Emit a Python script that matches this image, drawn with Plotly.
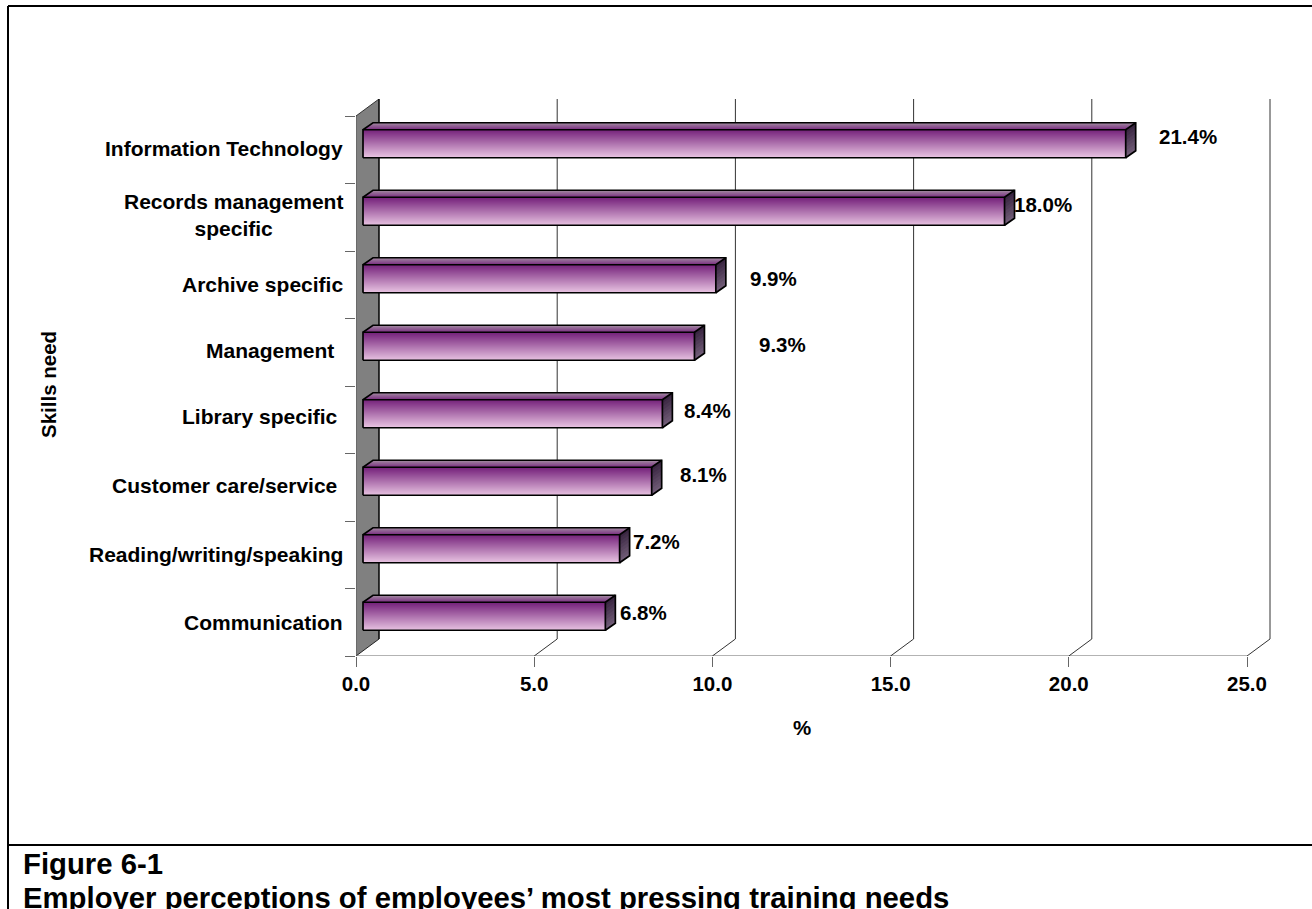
import plotly.graph_objects as go

categories = ["Information Technology", "Records management<br>specific", "Archive specific", "Management",
              "Library specific", "Customer care/service", "Reading/writing/speaking", "Communication"]
values = [21.4, 18.0, 9.9, 9.3, 8.4, 8.1, 7.2, 6.8]
value_labels = ["21.4%", "18.0%", "9.9%", "9.3%", "8.4%", "8.1%", "7.2%", "6.8%"]
x_ticks = [0, 5, 10, 15, 20, 25]
x_tick_labels = ["0.0", "5.0", "10.0", "15.0", "20.0", "25.0"]
caption_lines = ["Figure 6-1", "Employer perceptions of employees\u2019 most pressing training needs"]

# label placement, as pixel positions
cat_label_right = [345, 345, 345, 336, 340, 339, 345, 345]
cat_label_y = [148, 215, 284, 350, 417, 485, 554, 622]
val_label_x = [1188, 1043, 773, 782, 707, 703, 656, 643]
val_label_y = [136, 204, 278, 344, 410, 475, 541, 612]

W, H = 1312, 909
PL, PR, PT, PB = 356, 1271, 99, 656      # plot area in pixels
PX_PER_X = (1247 - 356) / 25
PX_PER_Y = (656 - 116) / 8
FONT = "Liberation Sans"
TICK_SIZE = 20.5
CAT_SIZE = 21

X_MAX = (PR - PL) / PX_PER_X
Y_MAX = (PB - PT) / PX_PER_Y
WALL_DX, WALL_DY = 23 / PX_PER_X, 17 / PX_PER_Y
BAR_X0 = 7 / PX_PER_X
BAR_LIFT = 6 / PX_PER_Y
BAR_H = 28 / PX_PER_Y
TOP_DX, TOP_DY = 10 / PX_PER_X, 7 / PX_PER_Y

def mix(c1, c2, t):
    return "rgb(%d,%d,%d)" % tuple(round(a + (b - a) * t) for a, b in zip(c1, c2))

n = len(values)
centers = [n - i - 0.5 + BAR_LIFT for i in range(n)]
ends = [BAR_X0 + v for v in values]
fig = go.Figure()

# front face gradient, stacked thin bars
FRONT_BANDS = 28
for k in range(FRONT_BANDS):
    t = k / (FRONT_BANDS - 1)
    offset = BAR_H / 2 - (k + 0.5) * BAR_H / FRONT_BANDS
    fig.add_trace(go.Bar(
        orientation="h", y=[c + offset for c in centers], x=values, base=BAR_X0,
        width=BAR_H / FRONT_BANDS * 1.4,
        marker=dict(color=mix((116, 32, 122), (228, 190, 222), t), line=dict(width=0)),
        showlegend=False, hoverinfo="skip"))

# top face gradient: each band reaches to the front edge, the next one paints over it
TOP_BANDS = 6
for k in range(TOP_BANDS):
    f0 = 1 - k / TOP_BANDS
    xs, ys = [], []
    for c, e in zip(centers, ends):
        top = c + BAR_H / 2
        xs += [BAR_X0 + f0 * TOP_DX, e + f0 * TOP_DX, e, BAR_X0, BAR_X0 + f0 * TOP_DX, None]
        ys += [top + f0 * TOP_DY, top + f0 * TOP_DY, top, top, top + f0 * TOP_DY, None]
    fig.add_trace(go.Scatter(x=xs, y=ys, mode="none", fill="toself",
                             fillcolor=mix((160, 135, 160), (124, 50, 130), k / (TOP_BANDS - 1)),
                             showlegend=False, hoverinfo="skip"))

# side face gradient: same painting order, top to bottom
SIDE_BANDS = 8
for k in range(SIDE_BANDS):
    f0 = k / SIDE_BANDS
    xs, ys = [], []
    for c, e in zip(centers, ends):
        top = c + BAR_H / 2
        y0, y1 = top - f0 * BAR_H, top - BAR_H
        xs += [e, e + TOP_DX, e + TOP_DX, e, e, None]
        ys += [y0, y0 + TOP_DY, y1 + TOP_DY, y1, y0, None]
    fig.add_trace(go.Scatter(x=xs, y=ys, mode="none", fill="toself",
                             fillcolor=mix((58, 38, 66), (112, 92, 118), k / (SIDE_BANDS - 1)),
                             showlegend=False, hoverinfo="skip"))

# outlines of the boxes
xs, ys = [], []
for c, e in zip(centers, ends):
    t, b = c + BAR_H / 2, c - BAR_H / 2
    xs += [BAR_X0, e, e, BAR_X0, BAR_X0, None,
           BAR_X0, BAR_X0 + TOP_DX, e + TOP_DX, e + TOP_DX, e, None, e, e + TOP_DX, None]
    ys += [b, b, t, t, b, None,
           t, t + TOP_DY, t + TOP_DY, b + TOP_DY, b, None, t, t + TOP_DY, None]
fig.add_trace(go.Scatter(x=xs, y=ys, mode="lines", line=dict(color="black", width=1.7),
                         showlegend=False, hoverinfo="skip"))

shapes = []
# side wall
shapes.append(dict(type="path", xref="x", yref="y", layer="below", fillcolor="#808080", line=dict(width=0),
                   path=f"M 0 0 L {WALL_DX} {WALL_DY} L {WALL_DX} {n + WALL_DY} L 0 {n} Z"))
for seg, col, w in [((0, 0, 0, n), "#555555", 1), ((0, n, WALL_DX, n + WALL_DY), "#333333", 1),
                    ((WALL_DX, WALL_DY, WALL_DX, n + WALL_DY), "black", 1.5), ((0, 0, WALL_DX, WALL_DY), "#222222", 1),
                    ((0, 0, 25, 0), "#666666", 1)]:
    shapes.append(dict(type="line", xref="x", yref="y", layer="below", x0=seg[0], y0=seg[1], x1=seg[2], y1=seg[3],
                       line=dict(color=col, width=w)))
# floor diagonals and back gridlines
for v in x_ticks[1:]:
    shapes.append(dict(type="path", xref="x", yref="y", layer="below", line=dict(color="#333333", width=1),
                       path=f"M {v} 0 L {v + WALL_DX} {WALL_DY} L {v + WALL_DX} {n + WALL_DY}"))

# frame around the figure, in pixels of the page
def fx(px): return (px - PL) / (PR - PL)
def fy(py): return (PB - py) / (PB - PT)
for a, b, c, d in [(8, 6, 1312, 6), (8, 6, 8, 909), (8, 845, 1312, 845)]:
    shapes.append(dict(type="line", xref="paper", yref="paper", x0=fx(a), y0=fy(b), x1=fx(c), y1=fy(d),
                       line=dict(color="black", width=2)))

ann = []
bold = dict(family=FONT, size=TICK_SIZE, color="black", weight="bold")
cat_font = dict(family=FONT, size=CAT_SIZE, color="black", weight="bold")
for cat, r, y in zip(categories, cat_label_right, cat_label_y):
    ann.append(dict(x=fx(r), y=fy(y), xref="paper", yref="paper", text=cat, showarrow=False, xanchor="right",
                    yanchor="middle", align="center", font=cat_font))
for lab, x, y in zip(value_labels, val_label_x, val_label_y):
    ann.append(dict(x=fx(x), y=fy(y), xref="paper", yref="paper", text=lab, showarrow=False, xanchor="center",
                    yanchor="middle", font=bold))
ann.append(dict(x=fx(48), y=fy(385), xref="paper", yref="paper", text="Skills need", textangle=-90, showarrow=False,
                xanchor="center", yanchor="middle", font=bold))
ann.append(dict(x=fx(802), y=fy(727), xref="paper", yref="paper", text="%", showarrow=False,
                xanchor="center", yanchor="middle", font=bold))
cap = dict(family=FONT, size=29.3, color="black", weight="bold")
for line, y in zip(caption_lines, [863, 897]):
    ann.append(dict(x=fx(21), y=fy(y), xref="paper", yref="paper", text=line, showarrow=False,
                    xanchor="left", yanchor="middle", font=cap))

fig.update_layout(
    width=W, height=H, margin=dict(l=PL, r=W - PR, t=PT, b=H - PB, autoexpand=False),
    plot_bgcolor="white", paper_bgcolor="white", barmode="overlay", bargap=0,
    shapes=shapes, annotations=ann, showlegend=False,
    xaxis=dict(range=[0, X_MAX], tickvals=x_ticks, ticktext=x_tick_labels, ticks="outside", ticklen=10,
               tickcolor="#666666", tickwidth=1, showgrid=False, zeroline=False, showline=False,
               tickfont=dict(family=FONT, size=TICK_SIZE, color="black", weight="bold"), ticklabelstandoff=-1),
    yaxis=dict(range=[0, Y_MAX], tickvals=list(range(n + 1)), ticktext=[""] * (n + 1), ticks="outside", ticklen=10,
               tickcolor="#666666", tickwidth=1, showgrid=False, zeroline=False, showline=False),
)
fig.write_html("out.html", config={"displayModeBar": False},
               post_script="document.body.style.margin='0';document.documentElement.style.overflow='hidden';")
